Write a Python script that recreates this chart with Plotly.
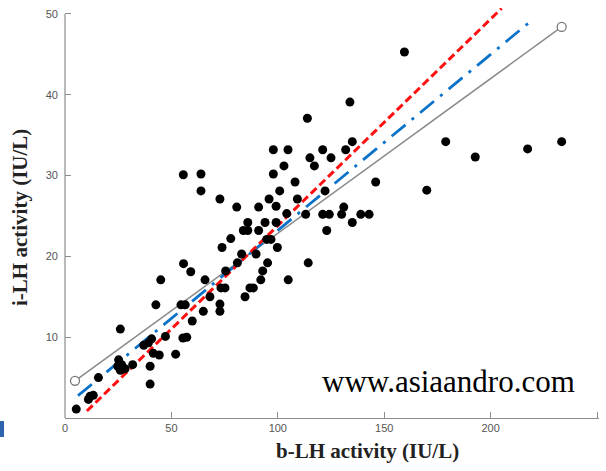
import plotly.graph_objects as go

# b-LH activity (x) and i-LH activity (y), IU/L
b_lh = [5.3, 11.0, 11.8, 13.3, 15.7, 25.2, 26.0, 26.6, 28.2, 24.8, 31.8, 26.0,
        37.0, 39.2, 40.7, 41.5, 44.3, 40.0, 40.0, 47.2, 52.0, 55.4, 57.2, 59.8,
        42.7, 54.5, 56.5, 45.0, 55.7, 59.1, 55.6, 63.9, 63.9, 72.8, 80.7, 91.0,
        97.9, 104.8, 97.9, 102.9, 108.1, 100.9, 95.9, 99.2, 109.2, 104.2, 113.1,
        113.9, 115.1, 117.2, 121.1, 125.0, 131.9, 135.0, 133.9, 122.2, 146.0,
        131.0, 121.1, 124.2, 130.0, 139.0, 142.9, 135.0, 123.0, 85.9, 94.0, 99.2,
        83.8, 85.9, 91.0, 77.9, 94.8, 96.8, 73.8, 99.8, 83.0, 89.8, 81.0, 95.2,
        114.3, 92.9, 75.5, 92.0, 65.8, 104.9, 86.9, 88.5, 73.3, 75.2, 84.6, 68.1,
        72.8, 72.8, 65.0, 159.5, 178.9, 192.8, 217.4, 233.4, 170.0]
i_lh = [1.1, 2.3, 2.7, 2.8, 5.0, 7.2, 5.9, 6.6, 6.1, 6.4, 6.6, 11.0,
        9.0, 9.3, 9.8, 8.0, 7.8, 6.4, 4.2, 10.1, 7.9, 9.9, 10.0, 12.0,
        14.0, 14.0, 14.0, 17.1, 19.1, 18.1, 30.1, 30.2, 28.1, 27.1, 26.1, 26.1,
        33.2, 33.2, 30.2, 31.2, 29.2, 28.1, 27.1, 26.2, 27.1, 25.3, 25.2,
        37.1, 32.2, 31.2, 33.2, 32.2, 33.2, 34.2, 39.1, 28.1, 29.2,
        26.1, 25.2, 25.2, 25.2, 25.2, 25.2, 24.2, 23.2, 24.2, 24.2, 24.2,
        23.2, 23.2, 23.2, 22.2, 22.1, 22.1, 21.1, 21.1, 20.3, 20.3, 19.2, 19.2,
        19.2, 18.2, 18.2, 17.1, 17.1, 17.1, 16.1, 16.1, 16.1, 16.1, 15.0, 15.0,
        14.1, 13.2, 13.2, 45.3, 34.2, 32.3, 33.3, 34.2, 28.2]

# regression / reference lines (end points)
gray_x = [4.7, 233.4]
gray_y = [4.6, 48.4]
blue_x = [6.1, 219.3]
blue_y = [2.76, 49.2]
red_x = [10.3, 205.2]
red_y = [0.87, 50.7]

x_ticks = [0, 50, 100, 150, 200, 250]
y_ticks = [10, 20, 30, 40, 50]

fig = go.Figure()
fig.add_trace(go.Scatter(x=gray_x, y=gray_y, mode="lines+markers",
                         line=dict(color="#8a8a8a", width=1.5),
                         marker=dict(symbol="circle", size=9, color="white",
                                     line=dict(color="#777777", width=1.3)),
                         showlegend=False, cliponaxis=False))
fig.add_trace(go.Scatter(x=blue_x, y=blue_y, mode="lines",
                         line=dict(color="#0a72c8", width=2.8, dash="18px,8px,3px,8px"),
                         showlegend=False))
fig.add_trace(go.Scatter(x=red_x, y=red_y, mode="lines",
                         line=dict(color="#ff1010", width=3, dash="8px,4px"),
                         showlegend=False))
fig.add_trace(go.Scatter(x=b_lh, y=i_lh, mode="markers",
                         marker=dict(color="black", size=9),
                         showlegend=False, cliponaxis=False))

axis_color = "#8c8c8c"
tick_font = dict(family="Liberation Sans, Arial", size=11, color="#555555")
fig.update_xaxes(range=[0, 250.94], tickvals=x_ticks, ticks="inside", ticklen=6,
                 tickcolor=axis_color, showline=True, linecolor=axis_color, linewidth=1.2,
                 showgrid=False, zeroline=False, tickfont=tick_font)
fig.update_yaxes(range=[0, 50.74], tickvals=y_ticks, ticks="inside", ticklen=6,
                 tickcolor=axis_color, showline=False,
                 showgrid=False, zeroline=False, tickfont=tick_font,
                 ticklabelstandoff=6)
fig.add_shape(type="line", xref="paper", yref="y", x0=0, x1=0, y0=0, y1=50,
              line=dict(color=axis_color, width=1.2))

title_font = dict(family="Liberation Serif, Times New Roman", size=21, color="#222222")
fig.add_annotation(text="<b>b-LH activity (IU/L)</b>", xref="paper", yref="paper",
                   x=(367 - 65) / 534, y=-(451 - 418) / 410, xanchor="center", yanchor="middle",
                   showarrow=False, font=title_font)
fig.add_annotation(text="<b>i-LH activity (IU/L)</b>", xref="paper", yref="paper",
                   x=-(65 - 20) / 534, y=(418 - 218) / 410, xanchor="center", yanchor="middle",
                   textangle=-90, showarrow=False, font=title_font)
fig.add_annotation(text="www.asiaandro.com", xref="paper", yref="paper",
                   x=(448 - 65) / 534, y=(418 - 381) / 410, xanchor="center", yanchor="middle",
                   showarrow=False,
                   font=dict(family="Liberation Serif, Times New Roman", size=31, color="black"))
fig.add_shape(type="rect", xref="paper", yref="paper",
              x0=-65 / 534, x1=-61 / 534, y0=-(437 - 418) / 410, y1=-(421 - 418) / 410,
              fillcolor="#2e63b0", line=dict(width=0))

fig.update_layout(width=606, height=471, margin=dict(l=65, r=7, t=8, b=53),
                  plot_bgcolor="white", paper_bgcolor="white")
fig.write_html("out.html")
